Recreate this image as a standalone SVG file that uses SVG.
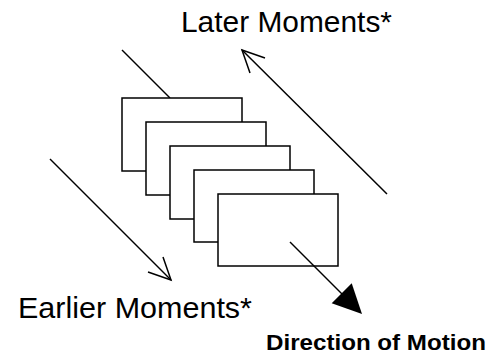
<svg xmlns="http://www.w3.org/2000/svg" width="503" height="358" viewBox="0 0 503 358">
<style>
.frame{fill:#fff;stroke:#000;stroke-width:1.5}
.ln{stroke:#000;stroke-width:1.5;fill:none}
.lbl{font-family:"Liberation Sans",Arial,sans-serif;fill:#000}
</style>
<rect width="503" height="358" fill="#fff"/>
<g id="connectors">
<line class="ln" x1="122" y1="50" x2="170" y2="98"/>
<line class="ln" x1="242" y1="50" x2="387" y2="194"/>
<polyline class="ln" points="265,58 242,50 250,73"/>
<line class="ln" x1="50" y1="159" x2="171" y2="280"/>
<polyline class="ln" points="148,272 171,280 163,257"/>
</g>
<g id="frame1"><rect class="frame" x="122" y="98" width="120" height="73"/></g>
<g id="frame2"><rect class="frame" x="146" y="122" width="120" height="73"/></g>
<g id="frame3"><rect class="frame" x="170" y="146" width="120" height="73"/></g>
<g id="frame4"><rect class="frame" x="194" y="170" width="120" height="72"/></g>
<g id="frame5"><rect class="frame" x="218" y="194" width="120" height="72"/></g>
<g id="direction-arrow">
<line class="ln" x1="290" y1="242" x2="345" y2="297"/>
<polygon points="331.7,303.3 351.7,283.3 362,314" fill="#000"/>
</g>
<text class="lbl" x="181" y="32" font-size="29" textLength="211" lengthAdjust="spacingAndGlyphs">Later Moments*</text>
<text class="lbl" x="18" y="318" font-size="29" textLength="234" lengthAdjust="spacingAndGlyphs">Earlier Moments*</text>
<text class="lbl" x="266" y="350" font-size="22" font-weight="bold" textLength="220" lengthAdjust="spacingAndGlyphs">Direction of Motion</text>
</svg>
